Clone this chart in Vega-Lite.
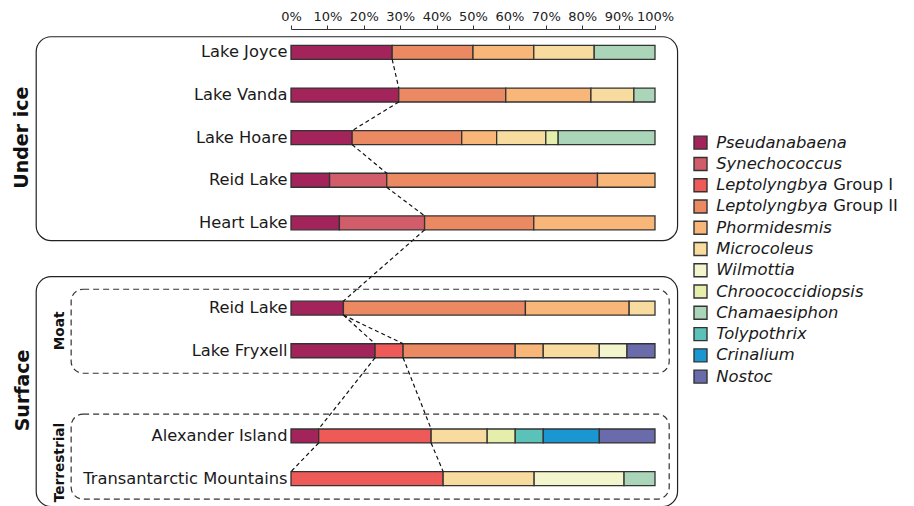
{
  "$schema": "https://vega.github.io/schema/vega-lite/v6.json",
  "width": 364,
  "height": 473,
  "autosize": {"type": "none"},
  "padding": {"left": 291, "top": 29, "right": 259, "bottom": 4},
  "background": "white",
  "config": {
    "view": {"stroke": null}, "font": "DejaVu Sans",
    "axisX": {"labelOverlap": false, "tickCount": 11, "grid": false, "labelFontSize": 13, "labelColor": "#222222", "tickColor": "#333333", "domainColor": "#333333", "tickSize": 4, "labelPadding": 2, "labelFlush": false, "labelBound": false}
  },
  "datasets": {
    "taxa": [
      {"taxon": "Pseudanabaena", "k": 1, "it": "Pseudanabaena", "rest": ""},
      {"taxon": "Synechococcus", "k": 2, "it": "Synechococcus", "rest": ""},
      {"taxon": "Leptolyngbya Group I", "k": 3, "it": "Leptolyngbya", "rest": "Group I"},
      {"taxon": "Leptolyngbya Group II", "k": 4, "it": "Leptolyngbya", "rest": "Group II"},
      {"taxon": "Phormidesmis", "k": 5, "it": "Phormidesmis", "rest": ""},
      {"taxon": "Microcoleus", "k": 6, "it": "Microcoleus", "rest": ""},
      {"taxon": "Wilmottia", "k": 7, "it": "Wilmottia", "rest": ""},
      {"taxon": "Chroococcidiopsis", "k": 8, "it": "Chroococcidiopsis", "rest": ""},
      {"taxon": "Chamaesiphon", "k": 9, "it": "Chamaesiphon", "rest": ""},
      {"taxon": "Tolypothrix", "k": 10, "it": "Tolypothrix", "rest": ""},
      {"taxon": "Crinalium", "k": 11, "it": "Crinalium", "rest": ""},
      {"taxon": "Nostoc", "k": 12, "it": "Nostoc", "rest": ""}
    ],
    "bars": [
      {"row": "Lake Joyce", "taxon": "Pseudanabaena", "pct": 27.8},
      {"row": "Lake Joyce", "taxon": "Leptolyngbya Group II", "pct": 22.2},
      {"row": "Lake Joyce", "taxon": "Phormidesmis", "pct": 16.7},
      {"row": "Lake Joyce", "taxon": "Microcoleus", "pct": 16.6},
      {"row": "Lake Joyce", "taxon": "Chamaesiphon", "pct": 16.7},
      {"row": "Lake Vanda", "taxon": "Pseudanabaena", "pct": 29.6},
      {"row": "Lake Vanda", "taxon": "Leptolyngbya Group II", "pct": 29.4},
      {"row": "Lake Vanda", "taxon": "Phormidesmis", "pct": 23.4},
      {"row": "Lake Vanda", "taxon": "Microcoleus", "pct": 11.8},
      {"row": "Lake Vanda", "taxon": "Chamaesiphon", "pct": 5.8},
      {"row": "Lake Hoare", "taxon": "Pseudanabaena", "pct": 16.8},
      {"row": "Lake Hoare", "taxon": "Leptolyngbya Group II", "pct": 30.1},
      {"row": "Lake Hoare", "taxon": "Phormidesmis", "pct": 9.6},
      {"row": "Lake Hoare", "taxon": "Microcoleus", "pct": 13.5},
      {"row": "Lake Hoare", "taxon": "Chroococcidiopsis", "pct": 3.4},
      {"row": "Lake Hoare", "taxon": "Chamaesiphon", "pct": 26.6},
      {"row": "Reid Lake (under ice)", "taxon": "Pseudanabaena", "pct": 10.6},
      {"row": "Reid Lake (under ice)", "taxon": "Synechococcus", "pct": 15.7},
      {"row": "Reid Lake (under ice)", "taxon": "Leptolyngbya Group II", "pct": 57.9},
      {"row": "Reid Lake (under ice)", "taxon": "Phormidesmis", "pct": 15.8},
      {"row": "Heart Lake", "taxon": "Pseudanabaena", "pct": 13.3},
      {"row": "Heart Lake", "taxon": "Synechococcus", "pct": 23.4},
      {"row": "Heart Lake", "taxon": "Leptolyngbya Group II", "pct": 30.0},
      {"row": "Heart Lake", "taxon": "Phormidesmis", "pct": 33.3},
      {"row": "Reid Lake (moat)", "taxon": "Pseudanabaena", "pct": 14.4},
      {"row": "Reid Lake (moat)", "taxon": "Leptolyngbya Group II", "pct": 50.0},
      {"row": "Reid Lake (moat)", "taxon": "Phormidesmis", "pct": 28.5},
      {"row": "Reid Lake (moat)", "taxon": "Microcoleus", "pct": 7.1},
      {"row": "Lake Fryxell", "taxon": "Pseudanabaena", "pct": 23.1},
      {"row": "Lake Fryxell", "taxon": "Leptolyngbya Group I", "pct": 7.7},
      {"row": "Lake Fryxell", "taxon": "Leptolyngbya Group II", "pct": 30.8},
      {"row": "Lake Fryxell", "taxon": "Phormidesmis", "pct": 7.7},
      {"row": "Lake Fryxell", "taxon": "Microcoleus", "pct": 15.4},
      {"row": "Lake Fryxell", "taxon": "Wilmottia", "pct": 7.6},
      {"row": "Lake Fryxell", "taxon": "Nostoc", "pct": 7.7},
      {"row": "Alexander Island", "taxon": "Pseudanabaena", "pct": 7.6},
      {"row": "Alexander Island", "taxon": "Leptolyngbya Group I", "pct": 30.9},
      {"row": "Alexander Island", "taxon": "Microcoleus", "pct": 15.4},
      {"row": "Alexander Island", "taxon": "Chroococcidiopsis", "pct": 7.7},
      {"row": "Alexander Island", "taxon": "Tolypothrix", "pct": 7.7},
      {"row": "Alexander Island", "taxon": "Crinalium", "pct": 15.4},
      {"row": "Alexander Island", "taxon": "Nostoc", "pct": 15.3},
      {"row": "Transantarctic Mountains", "taxon": "Leptolyngbya Group I", "pct": 41.8},
      {"row": "Transantarctic Mountains", "taxon": "Microcoleus", "pct": 25.0},
      {"row": "Transantarctic Mountains", "taxon": "Wilmottia", "pct": 24.7},
      {"row": "Transantarctic Mountains", "taxon": "Chamaesiphon", "pct": 8.5}
    ],
    "links": [
      {"from": "Lake Joyce", "to": "Lake Vanda", "a": 27.8, "b": 29.6},
      {"from": "Lake Vanda", "to": "Lake Hoare", "a": 29.6, "b": 16.8},
      {"from": "Lake Hoare", "to": "Reid Lake (under ice)", "a": 16.8, "b": 26.3},
      {"from": "Reid Lake (under ice)", "to": "Heart Lake", "a": 26.3, "b": 36.7},
      {"from": "Heart Lake", "to": "Reid Lake (moat)", "a": 36.7, "b": 14.4},
      {"from": "Reid Lake (moat)", "to": "Lake Fryxell", "a": 14.4, "b": 23.1},
      {"from": "Reid Lake (moat)", "to": "Lake Fryxell", "a": 14.4, "b": 30.8},
      {"from": "Lake Fryxell", "to": "Alexander Island", "a": 23.1, "b": 7.6},
      {"from": "Lake Fryxell", "to": "Alexander Island", "a": 30.8, "b": 38.5},
      {"from": "Alexander Island", "to": "Transantarctic Mountains", "a": 7.6, "b": 0},
      {"from": "Alexander Island", "to": "Transantarctic Mountains", "a": 38.5, "b": 41.8}
    ]
  },
  "layer": [
    {
      "layer": [
        {
          "data": {"name": "bars"},
          "transform": [
            {"lookup": "taxon", "from": {"data": {"name": "taxa"}, "key": "taxon", "fields": ["k"]}}
          ],
          "mark": {"type": "bar", "stroke": "#333333", "strokeWidth": 1.3},
          "encoding": {
            "x": {
              "field": "pct", "type": "quantitative", "stack": "zero", "title": null,
              "scale": {"domain": [0, 100], "nice": false, "zero": true},
              "axis": {"orient": "top", "values": [0, 10, 20, 30, 40, 50, 60, 70, 80, 90, 100], "labelExpr": "datum.value + '%'", "labelOverlap": false}
            },
            "y": {
              "field": "row", "type": "nominal", "title": null,
              "scale": {
                "type": "band",
                "domain": ["Lake Joyce", "Lake Vanda", "Lake Hoare", "Reid Lake (under ice)", "Heart Lake", "gap1", "Reid Lake (moat)", "Lake Fryxell", "gap2", "Alexander Island", "Transantarctic Mountains"],
                "paddingInner": 0.672, "paddingOuter": 0.385, "round": false
              },
              "axis": {
                "domain": false, "ticks": false, "labelFontSize": 16.3, "labelColor": "#1a1a1a",
                "labelPadding": 4, "labelLimit": 400, "labelFont": "DejaVu Sans",
                "labelExpr": "indexof(datum.value, 'gap') == 0 ? '' : split(datum.value, ' (')[0]"
              }
            },
            "color": {
              "field": "taxon", "type": "nominal", "legend": null,
              "scale": {
                "domain": ["Pseudanabaena", "Synechococcus", "Leptolyngbya Group I", "Leptolyngbya Group II", "Phormidesmis", "Microcoleus", "Wilmottia", "Chroococcidiopsis", "Chamaesiphon", "Tolypothrix", "Crinalium", "Nostoc"],
                "range": ["#a2245a", "#d15d6a", "#ee5a57", "#eb8963", "#f9b679", "#f8dc9f", "#f3f5cd", "#e5eeaa", "#aad5b9", "#5ac2b8", "#1a97d3", "#6a6bab"]
              }
            },
            "order": {"field": "k", "type": "quantitative", "sort": "ascending"}
          }
        },
        {
          "data": {"name": "links"},
          "mark": {"type": "rule", "strokeDash": [4, 3], "stroke": "#111111", "strokeWidth": 1.2},
          "encoding": {
            "x": {"field": "a", "type": "quantitative", "title": null, "axis": {"orient": "top", "values": [0, 10, 20, 30, 40, 50, 60, 70, 80, 90, 100], "labelExpr": "datum.value + '%'", "labelOverlap": false}},
            "x2": {"field": "b"},
            "y": {"field": "from", "type": "nominal", "bandPosition": 1, "title": null},
            "y2": {"field": "to", "bandPosition": 0}
          }
        },
        {
          "data": {"values": [{"group": "Under ice"}]},
          "mark": {"type": "rect", "filled": false, "stroke": "#222222", "strokeWidth": 1.2, "cornerRadius": 15, "fill": null},
          "encoding": {
            "x": {"datum": -70.0, "type": "quantitative", "axis": {"orient": "top", "values": [0, 10, 20, 30, 40, 50, 60, 70, 80, 90, 100], "labelExpr": "datum.value + '%'", "labelOverlap": false}},
            "x2": {"datum": 106.2},
            "y": {"datum": "Lake Joyce", "type": "nominal", "bandPosition": -0.62},
            "y2": {"datum": "Heart Lake", "bandPosition": 1.77}
          }
        },
        {
          "data": {"values": [{"group": "Surface"}]},
          "mark": {"type": "rect", "filled": false, "stroke": "#222222", "strokeWidth": 1.2, "cornerRadius": 15, "fill": null},
          "encoding": {
            "x": {"datum": -70.0, "type": "quantitative", "axis": {"orient": "top", "values": [0, 10, 20, 30, 40, 50, 60, 70, 80, 90, 100], "labelExpr": "datum.value + '%'", "labelOverlap": false}},
            "x2": {"datum": 106.2},
            "y": {"datum": "Reid Lake (moat)", "type": "nominal", "bandPosition": -1.75},
            "y2": {"datum": "Transantarctic Mountains", "bandPosition": 2.5}
          }
        },
        {
          "data": {"values": [{"group": "Moat"}]},
          "mark": {"type": "rect", "filled": false, "stroke": "#333333", "strokeWidth": 1.2, "cornerRadius": 12, "strokeDash": [6, 4], "fill": null},
          "encoding": {
            "x": {"datum": -60.4, "type": "quantitative", "axis": {"orient": "top", "values": [0, 10, 20, 30, 40, 50, 60, 70, 80, 90, 100], "labelExpr": "datum.value + '%'", "labelOverlap": false}},
            "x2": {"datum": 103.9},
            "y": {"datum": "Reid Lake (moat)", "type": "nominal", "bandPosition": -0.85},
            "y2": {"datum": "Lake Fryxell", "bandPosition": 2.11}
          }
        },
        {
          "data": {"values": [{"group": "Terrestrial"}]},
          "mark": {"type": "rect", "filled": false, "stroke": "#333333", "strokeWidth": 1.2, "cornerRadius": 12, "strokeDash": [6, 4], "fill": null},
          "encoding": {
            "x": {"datum": -60.4, "type": "quantitative", "axis": {"orient": "top", "values": [0, 10, 20, 30, 40, 50, 60, 70, 80, 90, 100], "labelExpr": "datum.value + '%'", "labelOverlap": false}},
            "x2": {"datum": 103.9},
            "y": {"datum": "Alexander Island", "type": "nominal", "bandPosition": -1.07},
            "y2": {"datum": "Transantarctic Mountains", "bandPosition": 1.97}
          }
        },
        {
          "data": {"values": [{"group": "Under ice"}]},
          "mark": {"type": "text", "angle": 270, "fontWeight": "bold", "fontSize": 19, "align": "center", "baseline": "middle", "color": "#111111"},
          "encoding": {
            "text": {"field": "group"},
            "x": {"datum": -73.8, "type": "quantitative", "axis": {"orient": "top", "values": [0, 10, 20, 30, 40, 50, 60, 70, 80, 90, 100], "labelExpr": "datum.value + '%'", "labelOverlap": false}},
            "y": {"datum": "Lake Hoare", "type": "nominal", "bandPosition": 0.5}
          }
        },
        {
          "data": {"values": [{"group": "Surface"}]},
          "mark": {"type": "text", "angle": 270, "fontWeight": "bold", "fontSize": 19, "align": "center", "baseline": "middle", "color": "#111111"},
          "encoding": {
            "text": {"field": "group"},
            "x": {"datum": -73.6, "type": "quantitative", "axis": {"orient": "top", "values": [0, 10, 20, 30, 40, 50, 60, 70, 80, 90, 100], "labelExpr": "datum.value + '%'", "labelOverlap": false}},
            "y": {"datum": "gap2", "type": "nominal", "bandPosition": 0.29}
          }
        },
        {
          "data": {"values": [{"group": "Moat"}]},
          "mark": {"type": "text", "angle": 270, "fontWeight": "bold", "fontSize": 13.7, "align": "center", "baseline": "middle", "color": "#111111"},
          "encoding": {
            "text": {"field": "group"},
            "x": {"datum": -63.5, "type": "quantitative", "axis": {"orient": "top", "values": [0, 10, 20, 30, 40, 50, 60, 70, 80, 90, 100], "labelExpr": "datum.value + '%'", "labelOverlap": false}},
            "y": {"datum": "Reid Lake (moat)", "type": "nominal", "bandPosition": 2.13}
          }
        },
        {
          "data": {"values": [{"group": "Terrestrial"}]},
          "mark": {"type": "text", "angle": 270, "fontWeight": "bold", "fontSize": 13.7, "align": "center", "baseline": "middle", "color": "#111111"},
          "encoding": {
            "text": {"field": "group"},
            "x": {"datum": -63.5, "type": "quantitative", "axis": {"orient": "top", "values": [0, 10, 20, 30, 40, 50, 60, 70, 80, 90, 100], "labelExpr": "datum.value + '%'", "labelOverlap": false}},
            "y": {"datum": "Alexander Island", "type": "nominal", "bandPosition": 2.4}
          }
        }
      ]
    },
    {
      "data": {"name": "taxa"},
      "encoding": {
        "y": {
          "field": "taxon", "type": "nominal", "title": null, "axis": null, "sort": null,
          "scale": {
            "type": "point",
            "domain": ["pad1", "pad2", "pad3", "pad4", "pad5", "Pseudanabaena", "Synechococcus", "Leptolyngbya Group I", "Leptolyngbya Group II", "Phormidesmis", "Microcoleus", "Wilmottia", "Chroococcidiopsis", "Chamaesiphon", "Tolypothrix", "Crinalium", "Nostoc", "pad6", "pad7", "pad8", "pad9", "pad10"],
            "padding": 0.62, "align": 0.278, "round": false
          }
        }
      },
      "layer": [
        {
          "mark": {"type": "point", "shape": "square", "size": 169, "filled": true, "stroke": "#333333", "strokeWidth": 1.4, "opacity": 1},
          "encoding": {
            "x": {"datum": 112.5, "type": "quantitative", "axis": {"orient": "top", "values": [0, 10, 20, 30, 40, 50, 60, 70, 80, 90, 100], "labelExpr": "datum.value + '%'", "labelOverlap": false}},
            "fill": {
              "field": "taxon", "type": "nominal", "legend": null,
              "scale": {
                "domain": ["Pseudanabaena", "Synechococcus", "Leptolyngbya Group I", "Leptolyngbya Group II", "Phormidesmis", "Microcoleus", "Wilmottia", "Chroococcidiopsis", "Chamaesiphon", "Tolypothrix", "Crinalium", "Nostoc"],
                "range": ["#a2245a", "#d15d6a", "#ee5a57", "#eb8963", "#f9b679", "#f8dc9f", "#f3f5cd", "#e5eeaa", "#aad5b9", "#5ac2b8", "#1a97d3", "#6a6bab"]
              }
            }
          }
        },
        {
          "mark": {"type": "text", "align": "left", "baseline": "middle", "fontStyle": "italic", "fontSize": 16.4, "color": "#1a1a1a"},
          "encoding": {
            "x": {"datum": 116.8, "type": "quantitative", "axis": {"orient": "top", "values": [0, 10, 20, 30, 40, 50, 60, 70, 80, 90, 100], "labelExpr": "datum.value + '%'", "labelOverlap": false}},
            "text": {"field": "it"}
          }
        },
        {
          "transform": [{"filter": "datum.rest != ''"}],
          "mark": {"type": "text", "align": "left", "baseline": "middle", "fontSize": 16.4, "color": "#1a1a1a", "dx": 117},
          "encoding": {
            "x": {"datum": 116.8, "type": "quantitative", "axis": {"orient": "top", "values": [0, 10, 20, 30, 40, 50, 60, 70, 80, 90, 100], "labelExpr": "datum.value + '%'", "labelOverlap": false}},
            "text": {"field": "rest"}
          }
        }
      ]
    }
  ],
  "resolve": {"scale": {"y": "independent", "color": "independent", "fill": "independent"}, "axis": {"y": "independent"}}
}
